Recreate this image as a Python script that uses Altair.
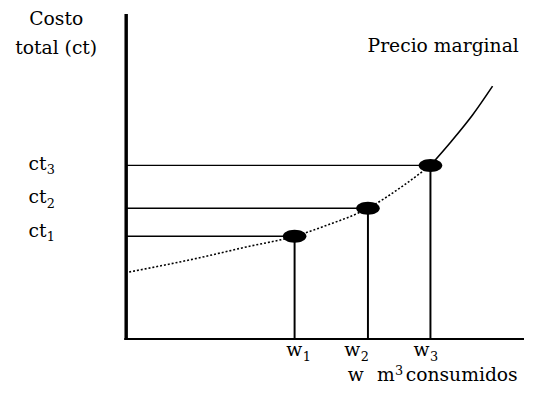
import altair as alt
import pandas as pd

FONT = "DejaVu Serif"

# consumption levels (x) and total cost levels (y), in chart units
w_vals = [4.5, 6.46, 8.13]
ct_vals = [3.16, 4.02, 5.34]
subs = ["1", "2", "3"]

# marginal price curve
curve_x = [0.08, 1.89, 3.21, 4.5, 5.32, 6.46, 7.42, 8.13, 8.68, 9.26, 9.79]
curve_y = [2.06, 2.48, 2.83, 3.16, 3.48, 4.02, 4.73, 5.34, 6.07, 6.90, 7.78]

x_axis_end = 10.63
y_axis_top = 10.0

xs = alt.Scale(domain=[0, 10], range=[120, 500], nice=False, zero=False)
ys = alt.Scale(domain=[0, 10], range=[333, 3], nice=False, zero=False)

pts = pd.DataFrame({"w": w_vals, "ct": ct_vals, "zero": [0.0] * 3})
curve = pd.DataFrame({"x": curve_x, "y": curve_y})
curve["dotted"] = curve["x"] <= w_vals[2]
curve["solid"] = curve["x"] >= w_vals[2]

X = lambda f: alt.X(f, scale=xs, axis=None)
Y = lambda f: alt.Y(f, scale=ys, axis=None)

# axes
axes_y = alt.Chart(pd.DataFrame({"x": [0.0], "y": [-0.03], "y2": [y_axis_top]})).mark_rule(
    color="black", strokeWidth=3.5).encode(x=X("x:Q"), y=Y("y:Q"), y2="y2:Q")
axes_x = alt.Chart(pd.DataFrame({"x": [-0.05], "x2": [x_axis_end], "y": [0.0]})).mark_rule(
    color="black", strokeWidth=2).encode(x=X("x:Q"), x2="x2:Q", y=Y("y:Q"))

hrules = alt.Chart(pts).mark_rule(color="black", strokeWidth=1.4).encode(
    x=X("zero:Q"), x2="w:Q", y=Y("ct:Q"))
vrules = alt.Chart(pts).mark_rule(color="black", strokeWidth=2).encode(
    x=X("w:Q"), y=Y("zero:Q"), y2="ct:Q")

dotted = alt.Chart(curve).transform_filter("datum.dotted").mark_line(
    color="black", strokeWidth=1.6, strokeDash=[2, 2], interpolate="monotone").encode(
    x=X("x:Q"), y=Y("y:Q"), order="x:Q")
solid = alt.Chart(curve).transform_filter("datum.solid").mark_line(
    color="black", strokeWidth=1.6, interpolate="monotone").encode(
    x=X("x:Q"), y=Y("y:Q"), order="x:Q")

ellipse = "M -1 0 A 1 0.55 0 1 1 1 0 A 1 0.55 0 1 1 -1 0 Z"
dots = alt.Chart(pts).mark_point(shape=ellipse, size=576, filled=True, color="black",
                                  opacity=1, strokeWidth=0).encode(
    x=X("w:Q"), y=Y("ct:Q"))

# text annotations (positions in chart units)
main_txt = pd.DataFrame({
    "x": [-2.61, -2.61, -2.61, 4.28, 5.83, 7.68, 5.92, 6.70, 7.47, 6.45],
    "y": [5.21, 4.18, 3.15, -0.52, -0.52, -0.52, -1.30, -1.30, -1.30, 8.82],
    "t": ["ct", "ct", "ct", "w", "w", "w", "w", "m", "consumidos", "Precio marginal"],
})
sub_txt = pd.DataFrame({
    "x": [-2.12, -2.12, -2.12, 4.72, 6.27, 8.12, 7.18],
    "y": [5.06, 4.03, 3.00, -0.67, -0.67, -0.67, -1.12],
    "t": ["3", "2", "1"] + subs + ["3"],
})
center_txt = pd.DataFrame({
    "x": [-1.87, -1.87],
    "y": [9.67, 8.76],
    "t": ["Costo", "total (ct)"],
})

t_main = alt.Chart(main_txt).mark_text(font=FONT, fontSize=19, align="left",
                                       baseline="alphabetic", color="black").encode(
    x=X("x:Q"), y=Y("y:Q"), text="t:N")
t_sub = alt.Chart(sub_txt).mark_text(font=FONT, fontSize=13, align="left",
                                     baseline="alphabetic", color="black").encode(
    x=X("x:Q"), y=Y("y:Q"), text="t:N")
t_center = alt.Chart(center_txt).mark_text(font=FONT, fontSize=19, align="center",
                                           baseline="alphabetic", color="black").encode(
    x=X("x:Q"), y=Y("y:Q"), text="t:N")

chart = alt.layer(
    axes_y, axes_x, hrules, vrules, dotted, solid, dots, t_main, t_sub, t_center
).properties(
    width=528, height=393, padding=0, autosize=alt.AutoSizeParams(type="none"),
    background="white"
).configure_view(stroke=None)

chart.save("out.html", embed_options={"renderer": "svg", "actions": False})
